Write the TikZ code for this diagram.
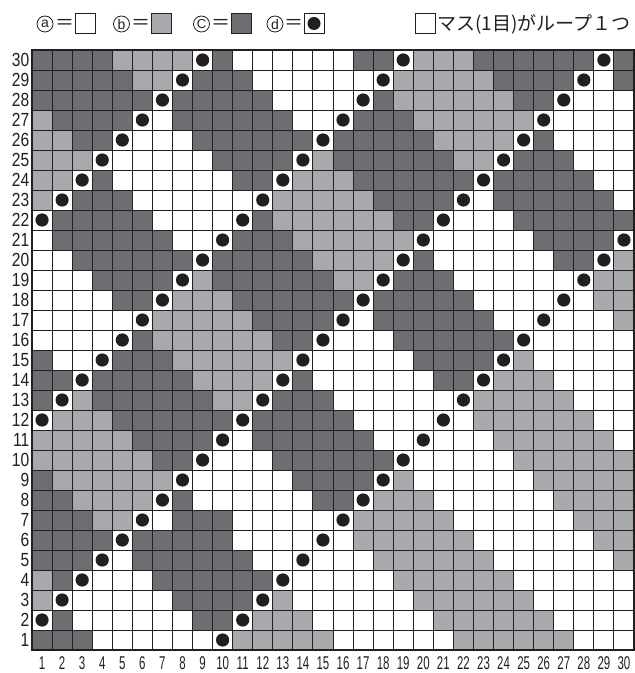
\documentclass[tikz,border=0pt]{standalone}
\usepackage{fontspec}
\setmainfont{Liberation Sans}
\newfontfamily\jpfont{Noto Sans CJK JP}
\definecolor{lgray}{HTML}{A7A9AC}
\definecolor{dgray}{HTML}{6D6E71}
\definecolor{ink}{HTML}{231F20}
\newcount\gcol
\def\cellput#1{%
  \pgfmathsetmacro\cx{32+(\the\gcol-1)*20.0667}%
  \pgfmathsetmacro\cy{3+20*\grow}%
  \ifcase#1\relax
  \or \fill[lgray] (\cx,\cy) rectangle ++(20.0667,20);
  \or \fill[dgray] (\cx,\cy) rectangle ++(20.0667,20);
  \or \fill[ink] (\cx+10.033,\cy+10) circle (6.6);
  \fi}
\def\cellparse#1{\ifx\relax#1\else\global\advance\gcol by 1\relax\cellput{#1}\expandafter\cellparse\fi}
\def\cellrow#1#2{\global\gcol=0\relax\def\grow{#1}\cellparse#2\relax}
\begin{document}
\begin{tikzpicture}[x=1pt,y=1pt,
  rowlab/.style={font=\fontsize{19}{19}\selectfont, inner sep=0pt, anchor=east, text=ink},
  collab/.style={font=\fontsize{18.5}{18.5}\selectfont, inner sep=0pt, text=ink},
  hdr/.style={font=\jpfont\fontsize{19}{19}\selectfont, inner sep=0pt, text=ink},
  circlet/.style={circle, draw=ink, line width=0.8pt, minimum size=16pt, inner sep=0pt,
    font=\fontsize{14}{14}\selectfont, text=ink},
  legbox/.style={draw=ink, line width=0.9pt, minimum size=20pt, inner sep=0pt}]
\useasboundingbox (0,0) rectangle (635,673);
% cells
\cellrow{30}{2222111132 0000002231 1122222232}
\cellrow{29}{2222211322 2000000311 1112222302}
\cellrow{28}{2222223222 2200003211 1111223000}
\cellrow{27}{1222230222 2220032221 1111130000}
\cellrow{26}{1122300022 2222322222 1111320000}
\cellrow{25}{1113000002 2223122222 2113222000}
\cellrow{24}{1132000000 2231112222 2232222200}
\cellrow{23}{1322200000 0311111222 2302222220}
\cellrow{22}{3222220000 3211111122 3000222222}
\cellrow{21}{0222222003 2221111113 0000022223}
\cellrow{20}{0022222232 2222111132 0000002231}
\cellrow{19}{0002222312 2222211322 2000000311}
\cellrow{18}{0000223111 2222223222 2200003011}
\cellrow{17}{0000031111 1222230222 2220030001}
\cellrow{16}{0000321111 1122300022 2222300000}
\cellrow{15}{2003222111 1113000002 2223100000}
\cellrow{14}{2232222211 1132000000 2231110000}
\cellrow{13}{2312222221 1322200000 0311111000}
\cellrow{12}{3111222222 3222220000 3011111100}
\cellrow{11}{1111122223 0222222003 0001111110}
\cellrow{10}{1111112230 0022222230 0000111111}
\cellrow{9}{2111111300 0002222310 0000011111}
\cellrow{8}{2211113200 0000223111 0000001111}
\cellrow{7}{2221130222 0000031111 1000000111}
\cellrow{6}{2222322222 0000301111 1100000011}
\cellrow{5}{2223022222 2003000111 1110000001}
\cellrow{4}{1230002222 2230000011 1111000000}
\cellrow{3}{1300000222 2310000001 1111100000}
\cellrow{2}{3200000022 3111000000 1111110000}
\cellrow{1}{2220000003 1111100000 0111111000}
% grid lines
\foreach \i in {1,...,29}{
  \draw[ink, line width=0.9pt] ({32+\i*20.0667},23) -- ({32+\i*20.0667},623);
  \draw[ink, line width=0.9pt] (32,{23+20*\i}) -- (634,{23+20*\i});
}
\draw[ink, line width=2.6pt] (32,23) rectangle (634,623);
% labels
\foreach \r in {1,...,30}
  \node[rowlab] (r\r) at (29.5,{13+20*\r}) {\scalebox{0.82}[1]{\r}};
\foreach \c in {1,...,30}
  \node[collab] (c\c) at ({32+(\c-0.5)*20.0667},9.5) {\scalebox{0.62}[1]{\c}};
% legend
\node[circlet] (la) at (45,649) {a};
\node[hdr] (ea) at (64.5,649) {＝};
\node[legbox, fill=white] (ba) at (85.5,649.5) {};
\node[circlet] (lb) at (121.5,649) {b};
\node[hdr] (eb) at (140.5,649) {＝};
\node[legbox, fill=lgray] (bb) at (161.5,649.5) {};
\node[circlet, font=\fontsize{13}{13}\selectfont] (lc) at (201.5,649) {C};
\node[hdr] (ec) at (220.5,649) {＝};
\node[legbox, fill=dgray] (bc) at (241.5,649.5) {};
\node[circlet] (ld) at (275,649) {d};
\node[hdr] (ed) at (293.5,649) {＝};
\node[legbox, fill=white] (bd) at (314,649.5) {};
\fill[ink] (bd.center) circle (6.5);
\node[legbox, fill=white] (bm) at (425,649.5) {};
\node[hdr, anchor=west] (tm) at (437,649) {マス(1目)がループ１つ};
\end{tikzpicture}
\end{document}
